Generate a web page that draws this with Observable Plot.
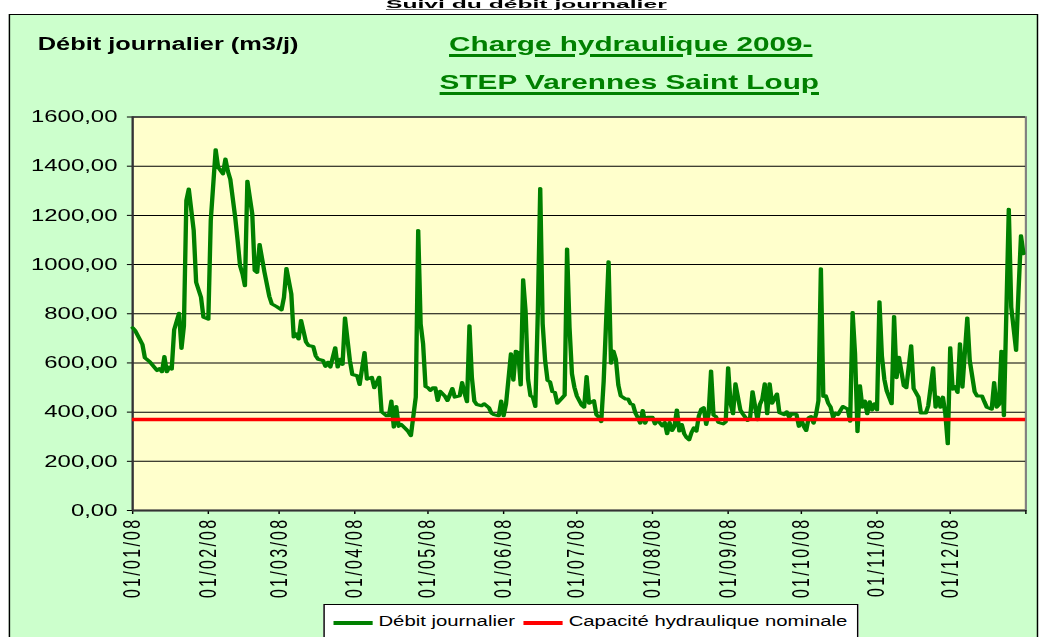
<!DOCTYPE html>
<html><head><meta charset="utf-8">
<script src="https://cdn.jsdelivr.net/npm/d3@7"></script>
<script src="https://cdn.jsdelivr.net/npm/@observablehq/plot@0.6"></script>
<style>
html,body{margin:0;padding:0;background:#fff;overflow:hidden;}
#page{position:relative;width:1045px;height:637px;overflow:hidden;background:#fff;}
#wrap{position:absolute;left:0;top:0;width:721px;height:637px;transform:scaleX(1.45);transform-origin:0 0;font-family:"Liberation Sans",Arial,sans-serif;color:#000;}
#frame{position:absolute;left:5.5px;top:14px;width:710px;height:700px;background:#CCFFCC;border:1.5px solid #000;box-sizing:border-box;}
.t{position:absolute;white-space:nowrap;font-weight:bold;}
#supt{left:363px;top:0px;transform:translateX(-50%) scaleY(0.6);transform-origin:50% 0;font-size:17px;line-height:17px;text-decoration:underline;}
#ylab{left:26px;top:34px;font-size:17.5px;}
#t1,#t2{transform:translateX(-50%);font-size:20.5px;color:#008000;text-decoration:underline;text-decoration-thickness:2.5px;text-underline-offset:3px;}
#t1{left:435px;top:32px;}
#t2{left:434px;top:70px;}
#chart{position:absolute;left:0;top:0;}
#legend{position:absolute;left:223px;top:604px;width:369px;height:40px;background:#fff;border:1px solid #000;box-sizing:border-box;display:flex;align-items:flex-start;padding:8px 0 0 6px;font-size:14px;}
.sw{display:inline-block;width:27px;height:3.5px;margin:8px 4px 0 0;}
.lt{margin-right:6px;}
</style>
</head><body>
<div id="page"><div id="wrap">
  <div id="frame"></div>
  <div class="t" id="supt">Suivi du débit journalier</div>
  <div class="t" id="ylab">Débit journalier (m3/j)</div>
  <div class="t" id="t1">Charge hydraulique 2009-</div>
  <div class="t" id="t2">STEP Varennes Saint Loup</div>
  <div id="chart"></div>
  <div id="legend">
    <span class="sw" style="background:#008000"></span><span class="lt">Débit journalier</span>
    <span class="sw" style="background:#FF0000"></span><span class="lt">Capacité hydraulique nominale</span>
  </div>
</div></div>
<script>
// day index from 01/01/2008
const jour = [0,1,3,4,5,7,10,11,12,13,14,15,16,17,19,20,21,22,23,25,26,28,29,31,32,34,35,37,38,39,40,42,43,44,45,46,47,49,50,51,52,54,56,57,59,61,62,63,65,66,67,68,69,71,72,74,75,76,78,79,80,81,83,84,85,86,87,89,90,92,93,95,96,98,99,101,102,104,105,106,107,108,109,110,112,113,114,116,117,118,119,120,121,122,123,124,125,126,128,129,131,132,134,135,136,137,138,139,140,141,143,144,146,147,148,150,151,152,153,155,156,157,158,159,160,161,162,163,164,165,166,167,168,169,170,171,172,173,174,176,177,178,179,180,181,182,184,185,186,187,189,190,191,192,193,195,196,197,198,199,200,202,203,204,205,206,207,208,209,210,211,213,214,215,217,218,219,220,221,222,223,224,225,226,227,228,229,230,231,232,233,234,235,236,237,238,239,240,242,243,244,245,246,247,249,250,252,253,254,255,256,257,258,259,260,261,262,264,265,267,268,269,270,272,273,274,275,276,277,278,279,280,281,282,283,284,285,286,287,288,289,291,293,294,295,296,297,298,299,300,301,302,303,304,305,306,307,308,309,311,312,313,314,316,317,319,320,322,323,325,326,328,329,330,331,332,333,334,335,336,337,338,339,340,342,343,345,346,348,349,350,352,353,354,355,356,357,359,360,362,363,364,365];
const debit = [743,732,694,675,621,605,569,577,564,626,564,583,575,735,802,659,751,1261,1307,1139,928,867,786,778,1179,1467,1396,1369,1429,1380,1347,1193,1098,995,962,914,1339,1206,976,968,1082,969,870,840,829,816,867,984,881,705,718,697,773,686,671,667,629,615,610,586,603,583,662,583,615,594,783,610,553,548,512,642,534,542,499,542,401,385,385,445,339,423,342,350,331,320,304,461,1139,759,678,504,499,488,499,499,447,485,464,447,496,461,466,520,477,442,751,540,445,431,426,434,418,396,390,385,445,385,434,637,530,648,642,510,938,810,534,466,461,423,800,1309,759,610,529,523,483,480,436,458,469,1063,745,556,501,466,428,420,545,436,447,390,379,361,526,1011,599,648,615,510,466,453,453,434,431,396,377,355,407,355,379,379,352,369,344,358,312,358,325,342,409,323,350,312,296,287,317,336,323,385,412,418,350,393,567,388,382,358,352,361,580,434,393,515,409,393,366,377,483,426,369,431,453,515,393,515,436,474,398,390,401,379,393,390,342,369,342,325,377,382,355,390,447,983,464,466,436,420,379,396,390,423,412,363,805,637,320,507,420,445,393,442,409,434,409,849,629,534,485,434,789,540,623,507,499,670,496,461,396,396,426,580,420,461,420,461,393,271,662,493,504,480,678,501,783,610,483,466,466,442,420,412,520,420,431,648,385,1225,827,651,895,1117,1044];
const capacite = 370;
const yTicks = [0,200,400,600,800,1000,1200,1400,1600];
const moisTicks = d3.range(13).map(m => new Date(Date.UTC(2008, m, 1)));
const fin = moisTicks[12].getTime();

const data = jour.map((j, i) => ({date: new Date(Date.UTC(2008, 0, 1 + j)), debit: debit[i]}));
const fmtY = d => d.toFixed(2).replace(".", ",");
const fmtX = d => d.getTime() === fin ? "" : "01/" + String(d.getUTCMonth() + 1).padStart(2, "0") + "/08";

const chart = Plot.plot({
  width: 721, height: 637,
  marginLeft: 91, marginRight: 14, marginTop: 116.5, marginBottom: 127,
  style: {background: "transparent", fontFamily: "Liberation Sans, Arial, sans-serif", overflow: "visible", color: "#000"},
  x: {type: "utc", domain: [moisTicks[0], moisTicks[12]], label: null},
  y: {domain: [0, 1600], label: null},
  marks: [
    Plot.frame({fill: "#FFFFCC", stroke: "#808080", strokeWidth: 1.5}),
    Plot.gridY(yTicks, {stroke: "#000", strokeOpacity: 1, strokeWidth: 1}),
    Plot.axisY(yTicks, {tickFormat: fmtY, tickSize: 3.5, tickPadding: 7, fontSize: 16.5, color: "#000", label: null}),
    Plot.axisX(moisTicks, {tickFormat: fmtX, tickRotate: -90, tickSize: 4, tickPadding: 3, fontSize: 16, color: "#000", label: null}),
    Plot.ruleX([moisTicks[0]], {stroke: "#333", strokeWidth: 1.4}),
    Plot.ruleY([0], {stroke: "#333", strokeWidth: 2}),
    Plot.line(data, {x: "date", y: "debit", stroke: "#008000", strokeWidth: 3}),
    Plot.ruleY([capacite], {stroke: "#FF0000", strokeWidth: 3.5})
  ]
});
document.getElementById("chart").appendChild(chart);
d3.select(chart).selectAll('[aria-label="x-axis tick label"] text').style("letter-spacing", "2.3px");
</script>
</body></html>
